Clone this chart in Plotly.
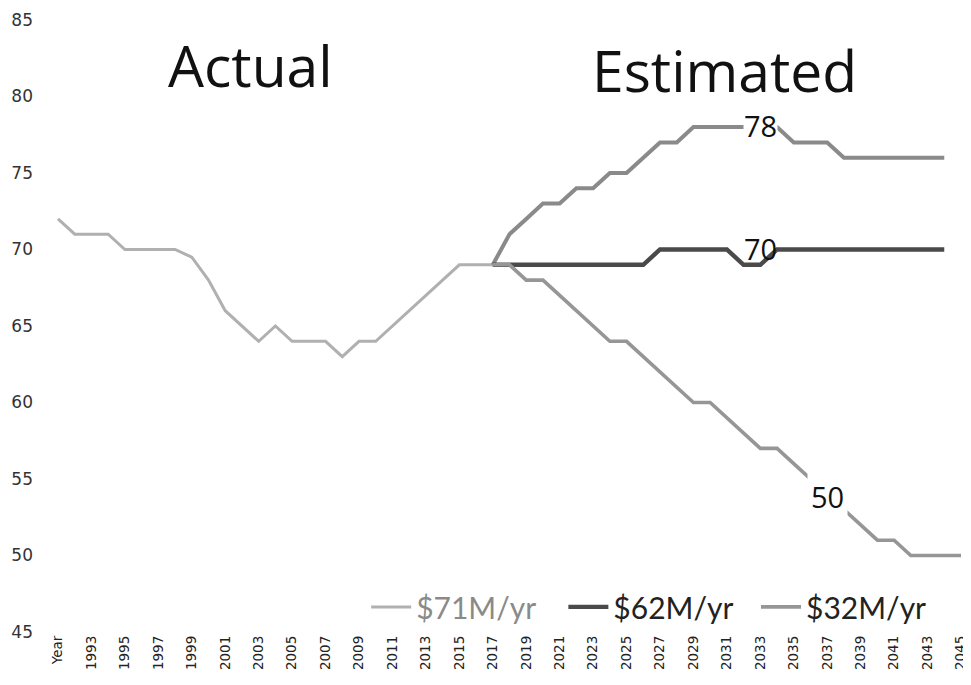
import plotly.graph_objects as go

# ---- data ----
categories = ["Year"] + [str(y) for y in range(1992, 2046)]
tick_labels = categories[::2]

actual_years = categories[0:27]            # Year .. 2017
actual_values = [72, 71, 71, 71, 70, 70, 70, 70, 69.5, 68, 66, 65, 64, 65, 64,
                 64, 64, 63, 64, 64, 65, 66, 67, 68, 69, 69, 69]

proj_years_71 = categories[26:54]          # 2017 .. 2044
values_71 = [69, 71, 72, 73, 73, 74, 74, 75, 75, 76, 77, 77, 78, 78, 78, 78,
             78, 78, 77, 77, 77, 76, 76, 76, 76, 76, 76, 76]

proj_years_62 = categories[26:54]          # 2017 .. 2044
values_62 = [69, 69, 69, 69, 69, 69, 69, 69, 69, 69, 70, 70, 70, 70, 70, 69,
             69, 70, 70, 70, 70, 70, 70, 70, 70, 70, 70, 70]

proj_years_32 = categories[26:55]          # 2017 .. 2045
values_32 = [69, 69, 68, 68, 67, 66, 65, 64, 64, 63, 62, 61, 60, 60, 59, 58,
             57, 57, 56, 55, 54, 53, 52, 51, 51, 50, 50, 50, 50]

series_names = ["$71M/yr", "$62M/yr", "$32M/yr"]
end_labels = ["78", "70", "50"]

fig = go.Figure()

fig.add_trace(go.Scatter(
    x=actual_years, y=actual_values, mode="lines",
    name="<span style='color:#8a8a8a'>" + series_names[0] + "</span>",
    legend="legend", legendgroup="a",
    line=dict(color="#b0b0b0", width=3)))
fig.add_trace(go.Scatter(
    x=proj_years_71, y=values_71, mode="lines", name=series_names[0],
    legend="legend", legendgroup="a", showlegend=False,
    line=dict(color="#8a8a8a", width=4)))
fig.add_trace(go.Scatter(
    x=proj_years_62, y=values_62, mode="lines", name=series_names[1],
    legend="legend2", line=dict(color="#4a4a4a", width=4.4)))
fig.add_trace(go.Scatter(
    x=proj_years_32, y=values_32, mode="lines", name=series_names[2],
    legend="legend3", line=dict(color="#969696", width=3.6)))

lab_font = dict(family="Open Sans", size=29, color="#111111")
i33 = categories.index("2033")
i37 = categories.index("2037")
fig.add_annotation(x=i33, y=values_71[i33 - 26],
                   text=end_labels[0], showarrow=False, font=lab_font,
                   bgcolor="white", borderpad=0, yshift=2)
fig.add_annotation(x=i33, y=values_62[i33 - 26],
                   text=end_labels[1], showarrow=False, font=lab_font,
                   yshift=16)
fig.add_annotation(x=i37, y=values_32[i37 - 26],
                   text=end_labels[2], showarrow=False, font=lab_font,
                   bgcolor="white", borderpad=3, yshift=-2)

big_font = dict(family="Open Sans", size=57, color="#111111")
fig.add_annotation(xref="paper", yref="paper", x=0.216, y=0.926,
                   text="Actual", showarrow=False, font=big_font,
                   xanchor="center", yanchor="middle")
fig.add_annotation(xref="paper", yref="paper", x=0.736, y=0.919,
                   text="Estimated", showarrow=False, font=big_font,
                   xanchor="center", yanchor="middle")

leg_common = dict(orientation="h", xanchor="left", y=0.041,
                  yanchor="middle", bgcolor="rgba(0,0,0,0)",
                  font=dict(family="Lato", size=30, color="#222222"),
                  itemwidth=40)

fig.update_layout(
    template="none",
    width=963, height=677,
    margin=dict(l=45, r=5, t=12, b=53, pad=0),
    paper_bgcolor="white", plot_bgcolor="white",
    showlegend=True,
    legend=dict(x=0.343, **leg_common),
    legend2=dict(x=0.559, **leg_common),
    legend3=dict(x=0.770, **leg_common),
    xaxis=dict(type="category", categoryorder="array",
               categoryarray=categories, range=[-0.3, 54.3],
               tickmode="array", tickvals=tick_labels, ticktext=tick_labels,
               tickangle=-90, showgrid=False, zeroline=False,
               showline=False, ticks="", automargin=False,
               tickfont=dict(family="DejaVu Sans", size=13.5, color="#222222")),
    yaxis=dict(range=[45, 85], tickmode="array",
               tickvals=[45, 50, 55, 60, 65, 70, 75, 80, 85],
               showgrid=False, zeroline=False, showline=False, ticks="",
               automargin=False, ticklabelstandoff=19,
               tickfont=dict(family="DejaVu Sans", size=17, color="#333333")),
)

fig.write_html("out.html")
